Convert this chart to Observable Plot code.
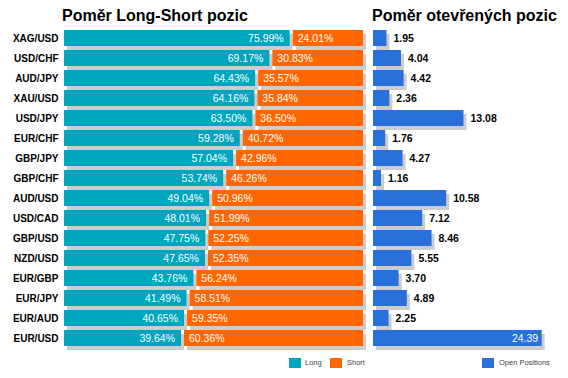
<!DOCTYPE html>
<html><head><meta charset="utf-8">
<script src="https://cdn.jsdelivr.net/npm/d3@7"></script>
<script src="https://cdn.jsdelivr.net/npm/@observablehq/plot@0.6"></script>
<style>
body{margin:0;background:#fff;font-family:"Liberation Sans",Arial,sans-serif;}
#wrap{position:relative;width:568px;height:378px;overflow:hidden;background:#fff;}
#wrap svg{position:absolute;top:0;}
.title{position:absolute;top:8px;font-size:16px;font-weight:bold;line-height:16px;white-space:nowrap;color:#000;}
.sq{position:absolute;top:358px;width:12px;height:9.5px;}
.legt{position:absolute;top:358px;font-size:7.5px;color:#444;line-height:10px;white-space:nowrap;}
</style></head><body>
<div id="wrap">
  <div class="title" style="left:62px">Poměr Long-Short pozic</div>
  <div class="title" style="left:372px">Poměr otevřených pozic</div>
  <div class="sq" style="left:289px;background:#00A5BE"></div><div class="legt" style="left:305px">Long</div>
  <div class="sq" style="left:330px;background:#FF6600"></div><div class="legt" style="left:347px">Short</div>
  <div class="sq" style="left:482px;background:#2A70DA"></div><div class="legt" style="left:499px">Open Positions</div>
</div>
<script>
const pairs = ["XAG/USD","USD/CHF","AUD/JPY","XAU/USD","USD/JPY","EUR/CHF","GBP/JPY","GBP/CHF","AUD/USD","USD/CAD","GBP/USD","NZD/USD","EUR/GBP","EUR/JPY","EUR/AUD","EUR/USD"];
const longPct = [75.99,69.17,64.43,64.16,63.50,59.28,57.04,53.74,49.04,48.01,47.75,47.65,43.76,41.49,40.65,39.64];
const shortPct = [24.01,30.83,35.57,35.84,36.50,40.72,42.96,46.26,50.96,51.99,52.25,52.35,56.24,58.51,59.35,60.36];
const openPos = [1.95,4.04,4.42,2.36,13.08,1.76,4.27,1.16,10.58,7.12,8.46,5.55,3.70,4.89,2.25,24.39];

const C = {long:"#00A5BE", short:"#FF6600", open:"#2A70DA", shadow:"#CCCCCC"};
const rows = pairs.map((p,i)=>({pair:p, long:longPct[i], short:shortPct[i], open:openPos[i]}));
const maxOpen = d3.max(openPos);
const yOpts = {domain: pairs, range:[30,346], paddingInner:0.22, paddingOuter:0, axis:null};
const font = {fontFamily:"'Liberation Sans', Arial, sans-serif", background:"transparent", overflow:"visible"};

const left = Plot.plot({
  width:368, height:378, marginLeft:64, marginRight:5, marginTop:0, marginBottom:0,
  x:{domain:[0,100], axis:null},
  y:yOpts,
  style:font,
  marks:[
    Plot.barX(rows,{y:"pair", x1:0, x2:"long", dx:3, dy:4, insetRight:1.5, fill:C.shadow}),
    Plot.barX(rows,{y:"pair", x1:"long", x2:d=>d.long+d.short, dx:3, dy:4, insetLeft:1.5, fill:C.shadow}),
    Plot.barX(rows,{y:"pair", x1:0, x2:"long", insetRight:1.5, fill:C.long}),
    Plot.barX(rows,{y:"pair", x1:"long", x2:d=>d.long+d.short, insetLeft:1.5, fill:C.short}),
    Plot.text(rows,{y:"pair", x:"long", text:d=>d.long.toFixed(2)+"%", textAnchor:"end", dx:-8, fill:"white", fontSize:10.5}),
    Plot.text(rows,{y:"pair", x:"long", text:d=>d.short.toFixed(2)+"%", textAnchor:"start", dx:6, fill:"white", fontSize:10.5}),
    Plot.text(rows,{y:"pair", x:0, text:"pair", textAnchor:"end", dx:-6, fill:"black", fontSize:10, fontWeight:"bold"})
  ]
});
left.style.left = "0px";

const right = Plot.plot({
  width:200, height:378, marginLeft:5, marginRight:26.3, marginTop:0, marginBottom:0,
  x:{domain:[0,maxOpen], axis:null},
  y:yOpts,
  style:font,
  marks:[
    Plot.barX(rows,{y:"pair", x1:0, x2:"open", dx:3, dy:4, fill:C.shadow}),
    Plot.barX(rows,{y:"pair", x1:0, x2:"open", fill:C.open}),
    Plot.text(rows.filter(d=>d.open<maxOpen),{y:"pair", x:"open", text:d=>d.open.toFixed(2), textAnchor:"start", dx:6.5, fill:"black", fontSize:10.5, fontWeight:"bold"}),
    Plot.text(rows.filter(d=>d.open===maxOpen),{y:"pair", x:"open", text:d=>d.open.toFixed(2), textAnchor:"end", dx:-4, fill:"white", fontSize:10.5})
  ]
});
right.style.left = "368px";

const wrap = document.getElementById("wrap");
wrap.insertBefore(right, wrap.firstChild);
wrap.insertBefore(left, wrap.firstChild);
</script>
</body></html>
